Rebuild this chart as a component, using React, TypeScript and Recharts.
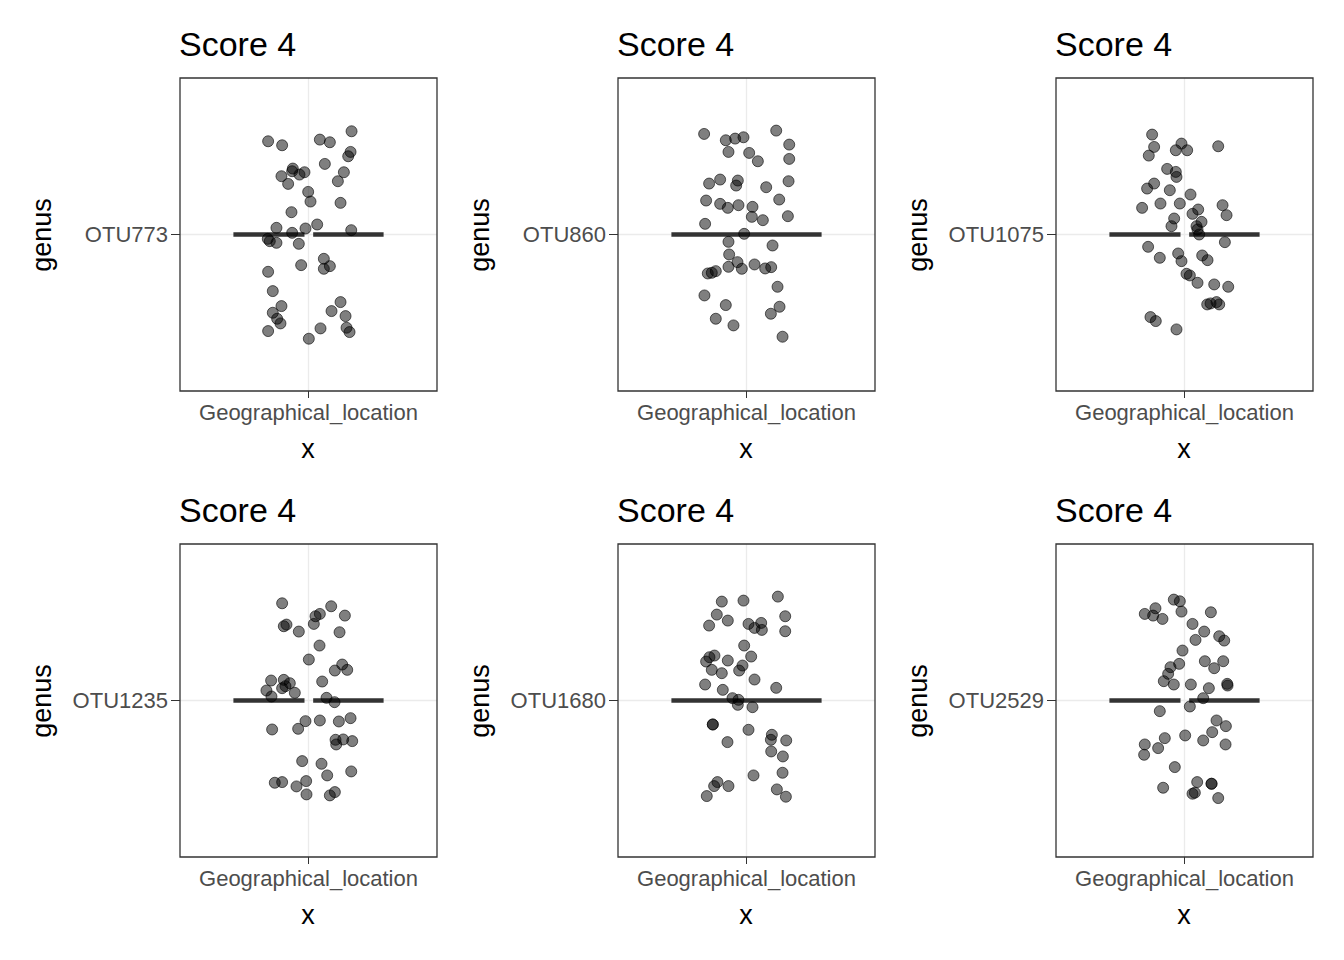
import React from "react";
import { ScatterChart, Scatter, XAxis, YAxis, CartesianGrid, ReferenceLine, ReferenceArea } from "recharts";

// Points: [jitter x, jitter y] as read positions (centre at 234,345)
const otu773: number[][] = [[113,65],[155,77],[268,60],[298,68],[363,35],[360,97],[353,110],[283,133],[187,147],[185,155],[207,165],[222,158],[153,170],[173,193],[340,158],[322,185],[233,217],[240,246],[330,250],[183,278],[138,325],[185,340],[225,327],[260,315],[362,332],[112,358],[118,365],[138,370],[205,373],[280,418],[280,448],[298,440],[212,437],[113,457],[127,515],[153,560],[127,580],[140,598],[150,612],[113,635],[330,548],[303,575],[345,590],[348,625],[357,638],[270,627],[235,658]];
const otu860: number[][] = [[107,43],[172,62],[200,57],[225,53],[323,33],[362,75],[180,97],[242,100],[268,125],[362,118],[122,192],[155,180],[208,183],[203,198],[293,203],[360,185],[113,243],[155,253],[178,265],[210,257],[252,262],[332,240],[250,292],[283,302],[358,290],[110,313],[227,343],[180,367],[312,378],[182,405],[207,428],[180,442],[220,448],[258,435],[290,447],[308,443],[118,462],[130,460],[142,455],[327,502],[108,528],[172,557],[333,562],[307,583],[142,598],[195,618],[342,652]];
const otu1075: number[][] = [[137,45],[143,82],[127,108],[225,72],[208,92],[242,92],[335,80],[182,148],[208,157],[210,172],[143,192],[122,207],[190,212],[252,225],[107,265],[162,252],[220,252],[348,257],[360,287],[275,270],[258,283],[285,307],[203,297],[195,320],[270,320],[278,345],[273,330],[355,368],[125,382],[160,415],[215,402],[225,425],[287,408],[303,422],[240,463],[250,468],[273,490],[323,495],[365,502],[302,555],[312,552],[330,548],[338,555],[132,593],[148,605],[210,630]];
const otu1235: number[][] = [[155,53],[302,62],[255,92],[268,85],[343,90],[250,115],[160,122],[168,117],[205,138],[327,140],[267,180],[235,222],[335,237],[313,255],[350,253],[122,285],[160,283],[178,293],[165,302],[155,308],[108,315],[123,333],[193,322],[275,288],[288,337],[312,350],[225,407],[268,405],[325,408],[360,398],[203,430],[125,432],[315,463],[338,462],[365,467],[317,477],[215,527],[273,535],[362,558],[290,570],[133,592],[155,590],[198,603],[227,587],[228,627],[298,630],[313,620]];
const otu1680: number[][] = [[160,48],[225,45],[328,33],[145,87],[178,105],[122,120],[240,115],[278,112],[258,127],[280,133],[350,92],[350,137],[227,180],[138,210],[123,215],[113,228],[178,225],[248,213],[222,240],[212,255],[130,253],[160,263],[258,282],[110,297],[163,313],[323,307],[192,338],[210,343],[208,358],[252,365],[133,417],[133,417],[240,433],[310,448],[307,463],[353,465],[177,470],[308,498],[343,513],[255,570],[342,562],[147,590],[137,602],[180,602],[115,632],[325,612],[352,634]];
const otu2529: number[][] = [[202,42],[220,47],[147,68],[115,85],[140,90],[168,100],[225,78],[313,80],[258,115],[293,138],[338,152],[353,165],[267,163],[228,195],[218,235],[192,245],[185,265],[172,287],[202,297],[295,227],[350,227],[323,248],[253,297],[307,308],[362,295],[363,300],[290,338],[160,377],[250,363],[330,405],[358,422],[317,440],[236,450],[175,458],[290,465],[115,477],[155,488],[357,477],[113,508],[205,545],[170,607],[272,590],[315,595],[315,595],[258,625],[265,622],[335,638]];

const genusLabels = ["OTU773", "OTU860", "OTU1075", "OTU1235", "OTU1680", "OTU2529"];
const seriesList = [otu773, otu860, otu1075, otu1235, otu1680, otu2529];
const gapped = [true, false, true, true, false, true];
const xTickLabel = "Geographical_location";
const titleText = "Score 4";

const FONT = "'Liberation Sans', Arial, sans-serif";
const XD = 385, YD = 470, HALF = 225;

const Dot = (p: any) => (
  <circle cx={p.cx} cy={p.cy} r={5.5} fill="rgba(0,0,0,0.5)" stroke="rgba(0,0,0,0.6)" strokeWidth={1} />
);

function Panel({ idx }: { idx: number }) {
  const col = idx % 3, row = Math.floor(idx / 3);
  const left = 438 * col, top = 466 * row;
  const data = seriesList[idx].map(([a, b]) => ({ x: a - 234, y: 345 - b }));
  return (
    <div style={{ position: "absolute", left, top, width: 438, height: 466 }}>
      <div style={{ position: "absolute", left: 179, top: 24, fontSize: 34, lineHeight: "40px", fontFamily: FONT, color: "#000" }}>{titleText}</div>
      <div style={{ position: "absolute", left: 42, top: 235, width: 0, height: 0 }}>
        <div style={{ position: "absolute", left: 0, top: 0, transform: "translate(-50%,-50%) rotate(-90deg)", fontSize: 27, lineHeight: "30px", fontFamily: FONT, whiteSpace: "nowrap" }}>genus</div>
      </div>
      <div style={{ position: "absolute", left: 308 - 50, top: 434, width: 100, textAlign: "center", fontSize: 27, lineHeight: "30px", fontFamily: FONT }}>x</div>
      <ScatterChart width={438} height={466} margin={{ top: 78, right: 1, bottom: 0, left: 0 }} style={{ position: "absolute", left: 0, top: 0 }}>
        <CartesianGrid stroke="#ebebeb" strokeWidth={1.3} horizontalValues={[0]} verticalValues={[0]} />
        <XAxis type="number" dataKey="x" domain={[-XD, XD]} ticks={[0]} height={75} axisLine={false}
          tickLine={{ stroke: "#333" }} tickSize={7} tickMargin={6} tickFormatter={() => xTickLabel}
          tick={{ fill: "#4d4d4d", fontSize: 22, fontFamily: FONT }} allowDataOverflow />
        <YAxis type="number" dataKey="y" domain={[-YD, YD]} ticks={[0]} width={180} axisLine={false}
          tickLine={{ stroke: "#333" }} tickSize={9} tickMargin={3} tickFormatter={() => genusLabels[idx]}
          tick={{ fill: "#4d4d4d", fontSize: 22, fontFamily: FONT }} allowDataOverflow />
        {gapped[idx] ? (
          <>
            <ReferenceLine segment={[{ x: -HALF, y: 0 }, { x: -12, y: 0 }]} stroke="#333" strokeWidth={4.5} />
            <ReferenceLine segment={[{ x: 14, y: 0 }, { x: HALF, y: 0 }]} stroke="#333" strokeWidth={4.5} />
          </>
        ) : (
          <ReferenceLine segment={[{ x: -HALF, y: 0 }, { x: HALF, y: 0 }]} stroke="#333" strokeWidth={4.5} />
        )}
        <Scatter data={data} shape={Dot} isAnimationActive={false} />
        <ReferenceArea x1={-XD} x2={XD} y1={-YD} y2={YD} fill="none" stroke="#333" strokeWidth={1.3} fillOpacity={0} />
      </ScatterChart>
    </div>
  );
}

export default function App() {
  return (
    <div style={{ position: "absolute", left: 0, top: 0, width: 1344, height: 960, background: "#fff" }}>
      {[0, 1, 2, 3, 4, 5].map((i) => <Panel key={i} idx={i} />)}
    </div>
  );
}
